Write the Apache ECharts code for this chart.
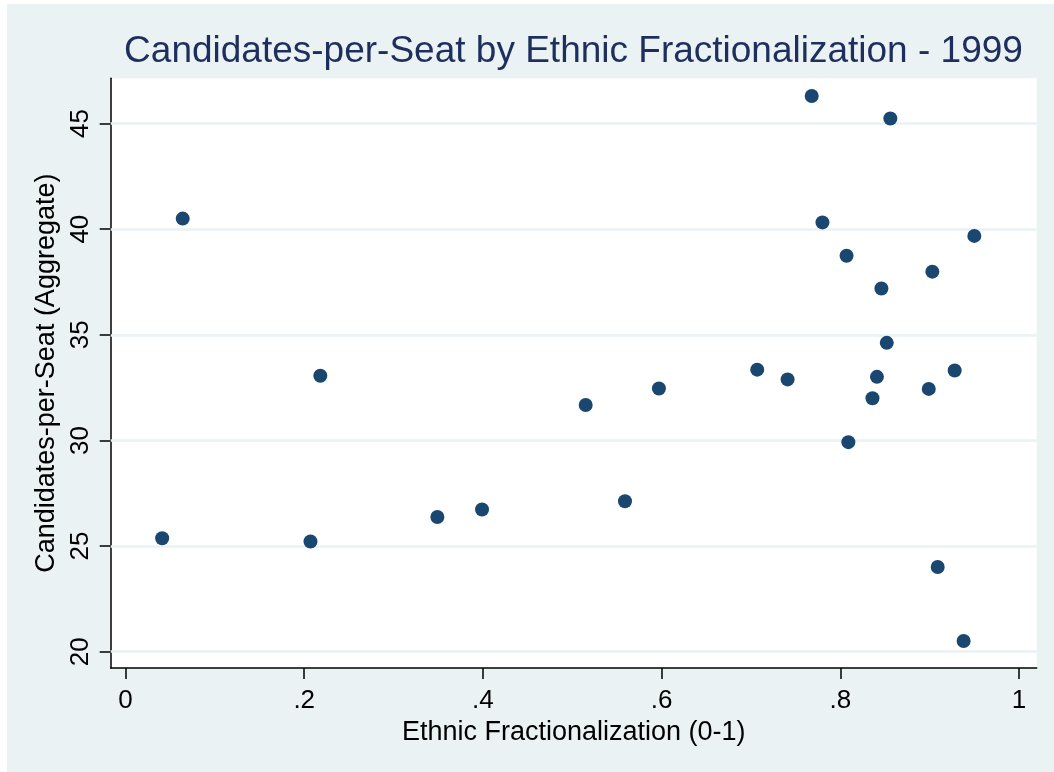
<!DOCTYPE html>
<html>
<head>
<meta charset="utf-8">
<script src="https://cdn.jsdelivr.net/npm/echarts@6/dist/echarts.min.js"></script>
<style>
html,body{margin:0;padding:0;background:#ffffff;width:1054px;height:772px;overflow:hidden;}
#c{position:absolute;left:7px;top:4px;width:1047px;height:768px;}
</style>
</head>
<body>
<div id="c"></div>
<script>
// Ethnic fractionalization (x) and candidates-per-seat (y), 1999
var fractionalization = [0.041, 0.064, 0.207, 0.218, 0.349, 0.399, 0.515, 0.559, 0.597, 0.707, 0.741, 0.768, 0.780, 0.807, 0.809, 0.836, 0.841, 0.846, 0.852, 0.856, 0.899, 0.903, 0.909, 0.928, 0.938, 0.950];
var candidatesPerSeat = [25.37, 40.50, 25.22, 33.06, 26.38, 26.73, 31.68, 27.12, 32.46, 33.35, 32.89, 46.30, 40.32, 38.74, 29.92, 32.00, 33.01, 37.19, 34.62, 45.24, 32.44, 37.99, 24.01, 33.31, 20.51, 39.68];
var xTicks = [0, 0.2, 0.4, 0.6, 0.8, 1];
var yTicks = [20, 25, 30, 35, 40, 45];
var titleText = 'Candidates-per-Seat by Ethnic Fractionalization - 1999';
var xTitle = 'Ethnic Fractionalization (0-1)';
var yTitle = 'Candidates-per-Seat (Aggregate)';

var points = fractionalization.map(function (x, i) { return [x, candidatesPerSeat[i]]; });
var FONT = '"Liberation Sans", Arial, sans-serif';

var chart = echarts.init(document.getElementById('c'), null, {renderer: 'canvas'});
chart.setOption({
  backgroundColor: '#eaf2f3',
  animation: false,
  title: {
    text: titleText,
    left: 566.5,
    textAlign: 'center',
    top: 29,
    padding: 0,
    textStyle: {fontFamily: FONT, fontSize: 37, fontWeight: 'normal', color: '#1e2f5e'}
  },
  grid: {
    left: 103.7, top: 74.3, right: 17.3, bottom: 104,
    show: true, backgroundColor: '#ffffff', borderWidth: 0
  },
  xAxis: {
    type: 'value',
    min: -0.0166, max: 1.0198,
    name: xTitle,
    nameLocation: 'middle',
    nameGap: 42,
    nameTextStyle: {fontFamily: FONT, fontSize: 27, color: '#000'},
    axisLine: {show: true, onZero: false, lineStyle: {color: '#000', width: 1.5}},
    axisTick: {show: true, length: 11, customValues: xTicks, lineStyle: {color: '#000', width: 1.5}},
    axisLabel: {
      customValues: xTicks,
      margin: 20,
      fontFamily: FONT, fontSize: 26, color: '#000',
      formatter: function (v) { var s = String(Math.round(v * 10) / 10); return s.replace(/^0\./, '.'); }
    },
    splitLine: {show: false}
  },
  yAxis: {
    type: 'value',
    min: 19.23, max: 47.14,
    name: yTitle,
    nameLocation: 'middle',
    nameGap: 41,
    nameRotate: 90,
    nameTextStyle: {fontFamily: FONT, fontSize: 27, color: '#000'},
    axisLine: {show: true, onZero: false, lineStyle: {color: '#000', width: 1.5}},
    axisTick: {show: true, length: 11, customValues: yTicks, lineStyle: {color: '#000', width: 1.5}},
    axisLabel: {
      customValues: yTicks,
      rotate: 90,
      align: 'center',
      verticalAlign: 'middle',
      margin: 30,
      fontFamily: FONT, fontSize: 26, color: '#000',
      formatter: function (v) { return String(Math.round(v)); }
    },
    splitLine: {show: false}
  },
  series: [
    {
      type: 'scatter',
      data: [],
      z: 1,
      silent: true,
      markLine: {
        z: 1,
        silent: true,
        symbol: ['none', 'none'],
        label: {show: false},
        lineStyle: {color: '#eaf2f3', width: 2.5, type: 'solid'},
        data: yTicks.map(function (t) { return {yAxis: t}; })
      }
    },
    {
      type: 'scatter',
      z: 10,
      data: points,
      symbol: 'circle',
      symbolSize: 14,
      itemStyle: {color: '#1a476f', opacity: 1}
    }
  ]
});
</script>
</body>
</html>
